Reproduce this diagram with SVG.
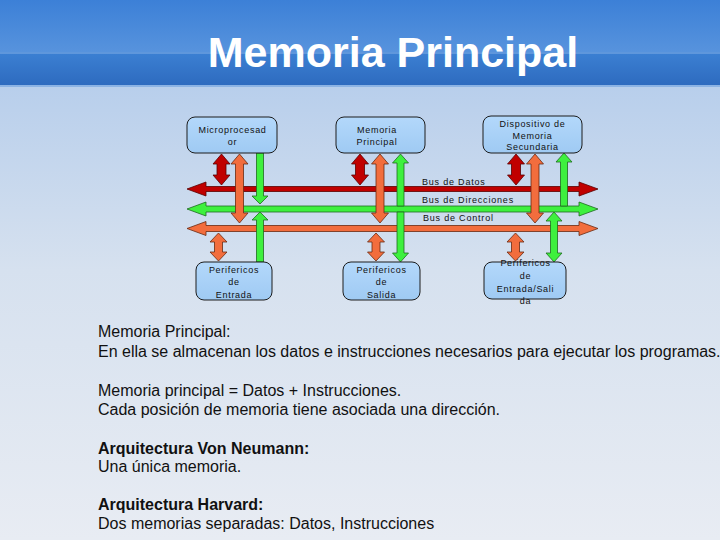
<svg xmlns="http://www.w3.org/2000/svg" width="720" height="540" viewBox="0 0 720 540">
<defs>
<linearGradient id="bg" x1="0" y1="0" x2="0" y2="1">
<stop offset="0" stop-color="#aac6ea"/>
<stop offset="0.5" stop-color="#d6e1ef"/>
<stop offset="1" stop-color="#e8ecf3"/>
</linearGradient>
<linearGradient id="barTop" x1="0" y1="0" x2="0" y2="1">
<stop offset="0" stop-color="#3c80d7"/>
<stop offset="1" stop-color="#5793dd"/>
</linearGradient>
<linearGradient id="barBot" x1="0" y1="0" x2="0" y2="1">
<stop offset="0" stop-color="#3b7fd2"/>
<stop offset="1" stop-color="#2e6bbf"/>
</linearGradient>
<linearGradient id="boxg" x1="0" y1="0" x2="0" y2="1">
<stop offset="0" stop-color="#b3d8fb"/>
<stop offset="1" stop-color="#9fcaf3"/>
</linearGradient>
<style>
.box{fill:url(#boxg);stroke:#1c1c1c;stroke-width:1}
.bt{font-family:"Liberation Sans",Arial,sans-serif;font-size:9px;letter-spacing:0.7px;fill:#111;text-anchor:middle}
.bl{font-family:"Liberation Sans",Arial,sans-serif;font-size:9px;letter-spacing:0.8px;fill:#111}
.red{fill:#c00000;stroke:#5a0000;stroke-width:0.8}
.grn{fill:#3ef03e;stroke:#1f6a1f;stroke-width:0.8}
.org{fill:#f26d3d;stroke:#6a2a10;stroke-width:0.8}
.body{font-family:"Liberation Sans",Arial,sans-serif;font-size:16px;fill:#111}
.bold{font-weight:bold}
</style>
</defs>
<rect x="0" y="0" width="720" height="540" fill="url(#bg)"/>
<rect x="0" y="0" width="720" height="52" fill="url(#barTop)"/>
<rect x="0" y="52" width="720" height="2" fill="#5f97dc"/>
<rect x="0" y="54" width="720" height="31" fill="url(#barBot)"/>
<rect x="0" y="85" width="720" height="2" fill="#8cb3e4"/>
<text x="393" y="67" font-family="'Liberation Sans',Arial,sans-serif" font-size="43" font-weight="bold" fill="#ffffff" text-anchor="middle">Memoria Principal</text>

<g id="connectors">
<!-- buses -->
<path class="red" d="M187,189 L206,182 L206,186.5 L579,186.5 L579,182 L598,189 L579,196 L579,191.5 L206,191.5 L206,196 Z"/>
<path class="grn" d="M187,209 L206,202 L206,206 L579,206 L579,202 L598,209 L579,216 L579,212 L206,212 L206,216 Z"/>
<path class="org" d="M187,228.5 L206,221.5 L206,225.5 L579,225.5 L579,221.5 L598,228.5 L579,235.5 L579,231.5 L206,231.5 L206,235.5 Z"/>
<!-- Microprocesador -->
<path class="red" d="M221.5,154 L230,164 L226,164 L226,175 L230,175 L221.5,185 L213,175 L217,175 L217,164 L213,164 Z"/>
<path class="org" d="M239.5,154 L248,164 L243.5,164 L243.5,213 L248,213 L239.5,223 L231,213 L235.5,213 L235.5,164 L231,164 Z"/>
<path class="grn" d="M256.5,153 L263.5,153 L263.5,196 L268,196 L260,204 L252,196 L256.5,196 Z"/>
<path class="org" d="M218.5,233 L227,242 L222.5,242 L222.5,252 L227,252 L218.5,261 L210,252 L214.5,252 L214.5,242 L210,242 Z"/>
<path class="grn" d="M260,212 L268,220 L263.5,220 L263.5,262 L256.5,262 L256.5,220 L252,220 Z"/>
<!-- Memoria Principal -->
<path class="red" d="M360,154 L368.5,164 L364.5,164 L364.5,175 L368.5,175 L360,185 L351.5,175 L355.5,175 L355.5,164 L351.5,164 Z"/>
<path class="org" d="M380,154 L388.5,164 L384,164 L384,213 L388.5,213 L380,223 L371.5,213 L376,213 L376,164 L371.5,164 Z"/>
<path class="grn" d="M400.5,154 L408.5,163 L404,163 L404,206 L397,206 L397,163 L392.5,163 Z"/>
<path class="org" d="M376,233 L384.5,242 L380,242 L380,252 L384.5,252 L376,261 L367.5,252 L372,252 L372,242 L367.5,242 Z"/>
<path class="grn" d="M397,212 L404,212 L404,253 L408.5,253 L400.5,262 L392.5,253 L397,253 Z"/>
<!-- Dispositivo -->
<path class="red" d="M516,154 L524.5,164 L520.5,164 L520.5,175 L524.5,175 L516,185 L507.5,175 L511.5,175 L511.5,164 L507.5,164 Z"/>
<path class="org" d="M535,154 L543.5,164 L539,164 L539,213 L543.5,213 L535,223 L526.5,213 L531,213 L531,164 L526.5,164 Z"/>
<path class="grn" d="M564,153 L572,162 L567.5,162 L567.5,206 L560.5,206 L560.5,162 L556,162 Z"/>
<path class="org" d="M515.5,233 L524,242 L519.5,242 L519.5,252 L524,252 L515.5,261 L507,252 L511.5,252 L511.5,242 L507,242 Z"/>
<path class="grn" d="M554,212 L562,221 L557.5,221 L557.5,253 L562,253 L554,262 L546,253 L550.5,253 L550.5,221 L546,221 Z"/>
</g>

<text class="bl" x="422" y="185">Bus de Datos</text>
<text class="bl" x="422" y="203">Bus de Direcciones</text>
<text class="bl" x="423" y="221">Bus de Control</text>

<g id="microprocesador">
<rect class="box" x="187" y="117" width="90" height="36" rx="8"/>
<text class="bt" x="232.5" y="133">Microprocesad</text>
<text class="bt" x="232.5" y="144.5">or</text>
</g>
<g id="memoria-principal">
<rect class="box" x="336" y="117" width="89" height="36" rx="8"/>
<text class="bt" x="377" y="133">Memoria</text>
<text class="bt" x="377" y="144.5">Principal</text>
</g>
<g id="dispositivo">
<rect class="box" x="483" y="116" width="99" height="37" rx="8"/>
<text class="bt" x="532.5" y="127">Dispositivo de</text>
<text class="bt" x="532.5" y="138.5">Memoria</text>
<text class="bt" x="532.5" y="150">Secundaria</text>
</g>
<g id="perif-entrada">
<rect class="box" x="196" y="262" width="76" height="38" rx="8"/>
<text class="bt" x="234" y="273">Perifericos</text>
<text class="bt" x="234" y="285">de</text>
<text class="bt" x="234" y="298">Entrada</text>
</g>
<g id="perif-salida">
<rect class="box" x="343" y="262" width="77" height="38" rx="8"/>
<text class="bt" x="381.5" y="273">Perifericos</text>
<text class="bt" x="381.5" y="285">de</text>
<text class="bt" x="381.5" y="298">Salida</text>
</g>
<g id="perif-es">
<rect class="box" x="484" y="262" width="82" height="37" rx="8"/>
<text class="bt" x="525.5" y="266">Perifericos</text>
<text class="bt" x="525.5" y="279">de</text>
<text class="bt" x="525.5" y="292">Entrada/Sali</text>
<text class="bt" x="525.5" y="304">da</text>
</g>

<g id="body-text">
<text class="body" x="98" y="337">Memoria Principal:</text>
<text class="body" x="98" y="357">En ella se almacenan los datos e instrucciones necesarios para ejecutar los programas.</text>
<text class="body" x="98" y="396">Memoria principal = Datos + Instrucciones.</text>
<text class="body" x="98" y="415">Cada posición de memoria tiene asociada una dirección.</text>
<text class="body bold" x="98" y="454">Arquitectura Von Neumann:</text>
<text class="body" x="98" y="472">Una única memoria.</text>
<text class="body bold" x="98" y="510">Arquitectura Harvard:</text>
<text class="body" x="98" y="529">Dos memorias separadas: Datos, Instrucciones</text>
</g>
</svg>
